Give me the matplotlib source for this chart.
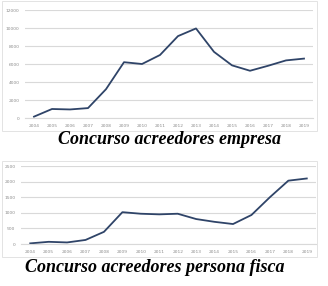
import matplotlib
matplotlib.use("Agg")
import matplotlib.pyplot as plt
from matplotlib.patches import Rectangle

years = [str(y) for y in range(2004, 2020)]
empresa = [150, 1000, 950, 1100, 3200, 6200, 6000, 7000, 9100, 9950, 7350, 5850, 5250, 5800, 6400, 6600]
persona = [20, 70, 50, 130, 390, 1020, 970, 950, 970, 800, 710, 640, 930, 1500, 2030, 2100]

emp_ticks = [0, 2000, 4000, 6000, 8000, 10000, 12000]
per_ticks = [0, 500, 1000, 1500, 2000, 2500]

LINE = "#2f4468"
GRID = "#d9d9d9"
TICK = "#8c8c8c"

W, H = 328, 286
fig = plt.figure(figsize=(W / 100, H / 100), dpi=100)


def px(x0, y0, x1, y1):
    # pixel box (top-left origin) -> figure rect
    return [x0 / W, 1 - y1 / H, (x1 - x0) / W, (y1 - y0) / H]


def panel(rect, values, ticks, title, title_y, title_x):
    ax = fig.add_axes(rect)
    ax.plot(range(len(years)), values, color=LINE, lw=1.3, solid_joinstyle="round")
    ax.set_xlim(-0.5, len(years) - 0.5)
    ax.set_ylim(ticks[0], ticks[-1])
    ax.set_xticks(range(len(years)))
    ax.set_xticklabels(years)
    ax.set_yticks(ticks)
    ax.set_yticklabels([str(t) for t in ticks])
    ax.tick_params(length=0, labelsize=3.2, labelcolor=TICK, pad=4)
    ax.grid(axis="y", color=GRID, lw=0.8)
    ax.set_axisbelow(True)
    for s in ["top", "right", "left"]:
        ax.spines[s].set_visible(False)
    ax.spines["bottom"].set_color(GRID)
    ax.spines["bottom"].set_linewidth(0.8)
    fig.text(title_x / W, 1 - title_y / H, title, ha="center", va="center",
             fontsize=13, fontweight="bold", fontstyle="italic",
             family="Liberation Serif", color="black")
    return ax


# outer chart borders
fig.patches.append(Rectangle((2 / W, 1 - 131 / H), 315 / W, 130 / H, transform=fig.transFigure,
                             fill=False, edgecolor="#e3e3e3", lw=0.7))
fig.patches.append(Rectangle((2 / W, 1 - 257 / H), 315 / W, 96 / H, transform=fig.transFigure,
                             fill=False, edgecolor="#e3e3e3", lw=0.7))

panel(px(25, 10, 313, 118), empresa, emp_ticks, "Concurso acreedores empresa", 139, 169)
panel(px(21, 166, 316, 244), persona, per_ticks, "Concurso acreedores persona fisca", 268, 155)

fig.savefig("out.png", dpi=100)
